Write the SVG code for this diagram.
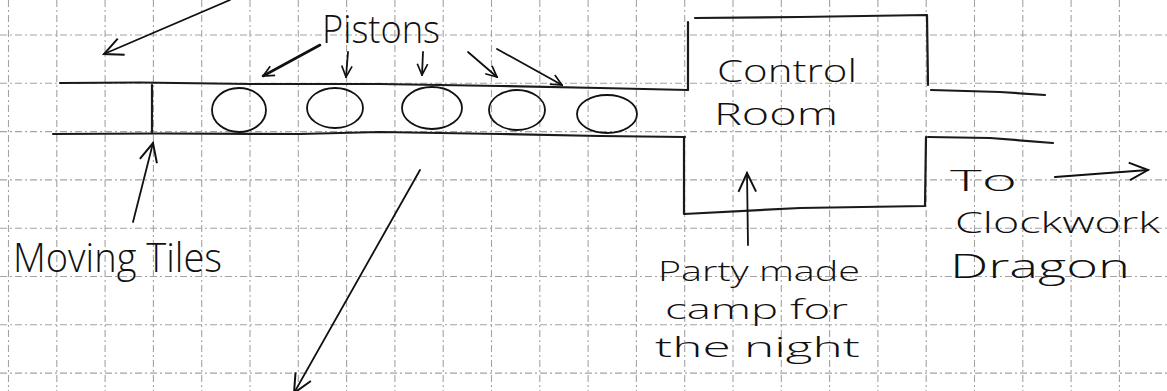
<svg xmlns="http://www.w3.org/2000/svg" width="1167" height="391" viewBox="0 0 1167 391">
<style>
.grid{stroke:#a3a3a3;stroke-width:1.1;stroke-dasharray:7 3 2 3;fill:none}
.wall{stroke:#1a1a1a;stroke-width:2.2;fill:none;stroke-linecap:round;stroke-linejoin:round}
.pen{stroke:#111;stroke-width:1.8;fill:none;stroke-linecap:round;stroke-linejoin:round}
.hand{font-family:"Open Sans","Liberation Sans",Arial,sans-serif;font-weight:300;fill:#111}
</style>
<defs>
<marker id="big" viewBox="0 0 20 20" refX="18" refY="10" markerWidth="22" markerHeight="22" markerUnits="userSpaceOnUse" orient="auto">
<path d="M1,2 L18,10 L1,18" fill="none" stroke="#111" stroke-width="1.8"/>
</marker>
<marker id="small" viewBox="0 0 20 20" refX="18" refY="10" markerWidth="13" markerHeight="13" markerUnits="userSpaceOnUse" orient="auto">
<path d="M1,2 L18,10 L1,18" fill="none" stroke="#111" stroke-width="2.6"/>
</marker>
</defs>
<rect width="1167" height="391" fill="#fff"/>
<g id="grid" class="grid">
<path d="M8.5,0V391M56.8,0V391M105.1,0V391M153.4,0V391M201.7,0V391M250,0V391M298.3,0V391M346.6,0V391M394.9,0V391M443.2,0V391M491.5,0V391M539.8,0V391M588.1,0V391M636.4,0V391M684.7,0V391M733,0V391M781.3,0V391M829.6,0V391M877.9,0V391M926.2,0V391M974.5,0V391M1022.8,0V391M1071.1,0V391M1119.4,0V391"/>
<path d="M0,35H1167M0,83.3H1167M0,131.6H1167M0,179.9H1167M0,228.2H1167M0,276.5H1167M0,324.8H1167M0,373.1H1167"/>
</g>
<g id="corridor" class="wall">
<path d="M60,83 L140,82.5 L250,84 L380,84 L500,86 L600,88 L688,90"/>
<path d="M53,134 L160,133.5 L300,134 L380,132 L500,134 L600,136 L685,137"/>
<path d="M152,85 L152,133"/>
</g>
<g id="control-room">
<path class="wall" d="M688,90 L688,22 M695,18 L800,17 L927,15 L928,85"/>
<path class="wall" d="M931,90 L1000,92 L1045,95"/>
<path class="wall" d="M928,137 L990,138 L1053,143"/>
<path class="wall" d="M926,137 L925,206 L800,208 L684,214 L684,137"/>
<text class="hand" x="717" y="82" font-size="31" textLength="140" lengthAdjust="spacingAndGlyphs">Control</text>
<text class="hand" x="714" y="125" font-size="31" textLength="124" lengthAdjust="spacingAndGlyphs">Room</text>
</g>
<g id="piston-1"><ellipse class="pen" cx="239" cy="110" rx="27" ry="22"/></g>
<g id="piston-2"><ellipse class="pen" cx="335" cy="108" rx="28" ry="20"/></g>
<g id="piston-3"><ellipse class="pen" cx="432" cy="108" rx="30" ry="21"/></g>
<g id="piston-4"><ellipse class="pen" cx="517" cy="110" rx="28" ry="20"/></g>
<g id="piston-5"><ellipse class="pen" cx="607" cy="114" rx="30" ry="19"/></g>
<g id="pistons-label"><text class="hand" x="322" y="43" font-size="38" textLength="118" lengthAdjust="spacingAndGlyphs">Pistons</text></g>
<g id="moving-tiles-label"><text class="hand" x="13" y="272" font-size="40" textLength="209" lengthAdjust="spacingAndGlyphs">Moving Tiles</text></g>
<g id="camp-label" class="hand" font-size="27">
<text x="658" y="281" textLength="202" lengthAdjust="spacingAndGlyphs">Party made</text>
<text x="665" y="319" textLength="183" lengthAdjust="spacingAndGlyphs">camp for</text>
<text x="655" y="357" textLength="205" lengthAdjust="spacingAndGlyphs">the night</text>
</g>
<g id="dragon-label" class="hand">
<text x="950" y="191" font-size="30" textLength="67" lengthAdjust="spacingAndGlyphs">To</text>
<text x="955" y="233" font-size="30" textLength="205" lengthAdjust="spacingAndGlyphs">Clockwork</text>
<text x="950" y="278" font-size="33" textLength="180" lengthAdjust="spacingAndGlyphs">Dragon</text>
</g>
<g id="connectors" class="pen">
<path d="M230,0 L104,54" marker-end="url(#big)"/>
<path d="M320,45 L263,76" marker-end="url(#small)" stroke-width="2.6"/>
<path d="M348,52 L346,77" marker-end="url(#small)"/>
<path d="M423,52 L422,75" marker-end="url(#small)"/>
<path d="M468,52 L497,77" marker-end="url(#small)"/>
<path d="M497,49 L562,85" marker-end="url(#small)"/>
<path d="M133,222 L153,143" marker-end="url(#big)"/>
<path d="M420,170 L294,393" marker-end="url(#big)"/>
<path d="M748,245 L747,173" marker-end="url(#big)"/>
<path d="M1055,177 L1148,170" marker-end="url(#big)" stroke-width="2.2"/>
</g>
</svg>
